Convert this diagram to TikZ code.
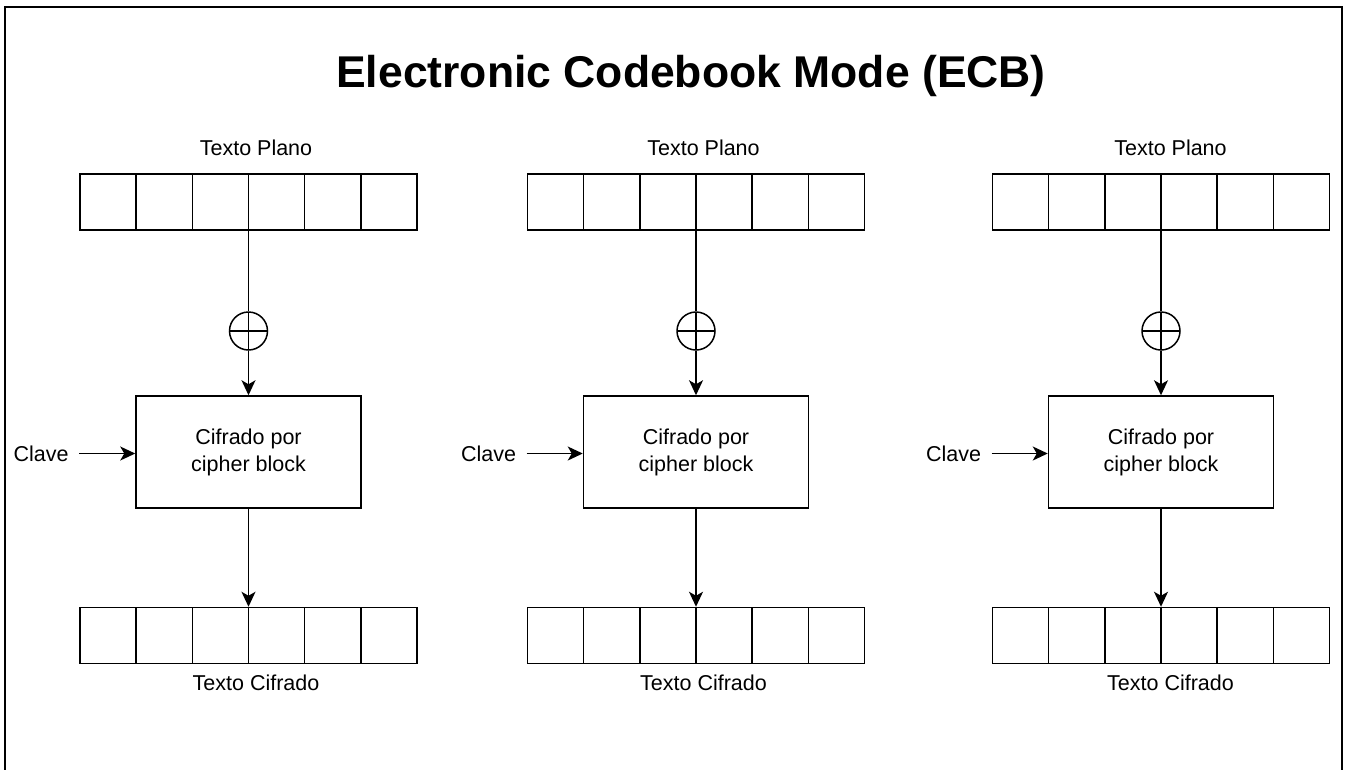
\documentclass[tikz,border=0pt]{standalone}
\usepackage{fontspec}
\setmainfont{Liberation Sans}
\usetikzlibrary{arrows.meta}

\tikzset{
    fila/.style={draw, minimum width=337pt, minimum height=56pt, inner sep=0pt,
        path picture={
            \foreach \k in {1,...,5}
                \draw ([xshift=\k*56.1667pt]path picture bounding box.south west) -- ([xshift=\k*56.1667pt]path picture bounding box.north west);
        }},
    xorop/.style={draw, circle, minimum size=38pt, inner sep=0pt,
        path picture={
            \draw (path picture bounding box.west) -- (path picture bounding box.east)
                  (path picture bounding box.north) -- (path picture bounding box.south);
        }},
    bloque/.style={draw, minimum width=225pt, minimum height=112pt, align=center,
        font=\fontsize{21.5}{27}\selectfont},
    etiqueta/.style={font=\fontsize{21.5}{26}\selectfont, inner sep=0pt},
    titulo/.style={font=\fontsize{44.5}{50}\selectfont\bfseries, inner sep=0pt},
    flecha/.style={-{Stealth[length=15pt,width=14pt,inset=4pt]}},
}

\begin{document}
\begin{tikzpicture}[x=1pt, y=-1pt, line width=1.5pt]
    \useasboundingbox (0,0) rectangle (1346,769);

    % Marco
    \draw[line width=2pt] (4.5,775) -- (4.5,7) -- (1342,7) -- (1342,775);

    \node[titulo, anchor=base] (titulo) at (691,87) {Electronic Codebook Mode (ECB)};

    % Tres bloques iguales
    \foreach \c/\x/\d in {1/248.5/7.5, 2/696/7.5, 3/1161/9.5} {
        \begin{scope}[xshift=\x pt]
            \node[etiqueta, anchor=base] (tplano\c) at (\d,155) {Texto Plano};
            \node[fila] (plano\c) at (0,202) {};
            \node[xorop] (xor\c) at (0,331) {};
            \node[bloque] (cifra\c) at (0,452) {Cifrado por\\cipher block};
            \node[fila] (salida\c) at (0,635.5) {};
            \node[etiqueta, anchor=base] (tcifra\c) at (\d,690) {Texto Cifrado};
            \node[etiqueta, inner xsep=10pt] (clave\c) at (-207.5,453.5) {Clave};

            % Flechas
            \draw (plano\c.north) -- (xor\c);
            \draw[flecha] (xor\c) -- (cifra\c);
            \draw[flecha] (cifra\c) -- (salida\c);
            \draw[flecha] (clave\c.east) -- (clave\c.east -| cifra\c.west);
        \end{scope}
    }
\end{tikzpicture}
\end{document}
